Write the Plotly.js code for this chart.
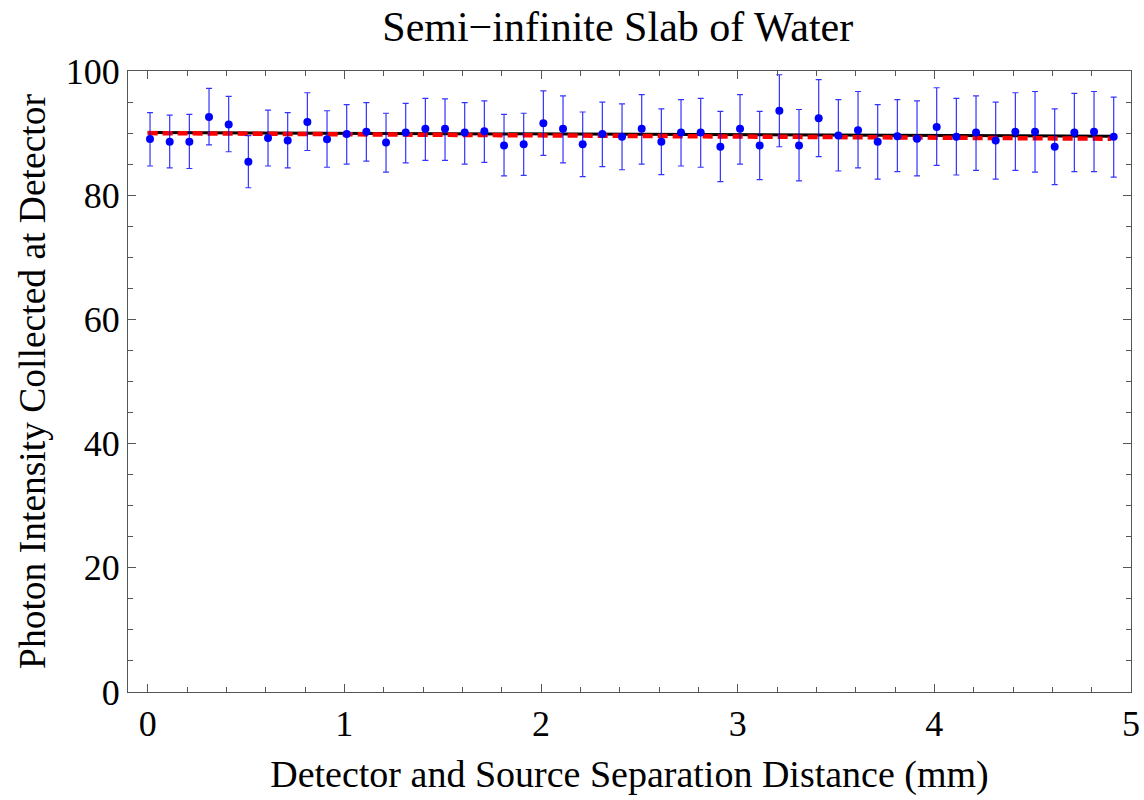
<!DOCTYPE html>
<html>
<head>
<meta charset="utf-8">
<script src="https://cdn.plot.ly/plotly-3.0.1.min.js"></script>
<style>html,body{margin:0;padding:0;background:#fff;}#chart{width:1144px;height:800px;}</style>
</head>
<body>
<div id="chart"></div>
<script>
// Detector-source separation (mm)
const separation = [0.012,0.112,0.212,0.312,0.412,0.512,0.612,0.712,0.812,0.912,
  1.012,1.112,1.212,1.312,1.412,1.512,1.612,1.712,1.812,1.912,
  2.012,2.112,2.212,2.312,2.412,2.512,2.612,2.712,2.812,2.912,
  3.012,3.112,3.212,3.312,3.412,3.512,3.612,3.712,3.812,3.912,
  4.012,4.112,4.212,4.312,4.412,4.512,4.612,4.712,4.812,4.912];
// Photon intensity (simulated points)
const intensity = [89.05,88.6,88.6,92.6,91.4,85.4,89.2,88.8,91.8,89.0,
  89.85,90.2,88.5,90.1,90.7,90.7,90.1,90.3,88.0,88.2,
  91.6,90.7,88.2,89.85,89.4,90.7,88.6,90.1,90.1,87.8,
  90.7,88.0,93.6,88.0,92.4,89.6,90.45,88.6,89.5,89.1,
  91.0,89.4,90.1,88.8,90.2,90.2,87.8,90.1,90.2,89.4];
// Error bar upper ends
const upper = [93.3,92.9,93.0,97.2,95.9,89.6,93.7,93.3,96.5,93.6,
  94.6,94.9,93.2,94.8,95.6,95.5,94.9,95.2,93.0,93.2,
  96.8,96.0,93.4,95.0,94.7,96.2,93.9,95.4,95.6,93.5,
  96.2,93.5,99.4,93.8,98.6,95.4,96.7,94.6,95.4,95.2,
  97.3,95.6,96.0,95.0,96.5,96.7,93.9,96.4,96.7,95.8];
// Error bar lower ends
const lower = [84.7,84.4,84.3,88.1,87.0,81.2,84.7,84.4,87.2,84.5,
  85.0,85.5,83.7,85.2,85.6,85.6,85.0,85.3,83.1,83.2,
  86.4,85.2,83.0,84.6,84.1,85.0,83.3,84.7,84.5,82.2,
  85.0,82.5,87.8,82.3,86.2,83.9,84.4,82.6,83.8,83.1,
  84.8,83.25,84.0,82.6,84.0,83.7,81.7,83.8,83.8,82.9];
// Fit curves
const fitX = [0, 4.9];
const fitBlack = [90.1, 89.5];
const fitRed = [90.0, 89.1];

const errPlus = intensity.map((v, i) => upper[i] - v);
const errMinus = intensity.map((v, i) => v - lower[i]);

const serif = '"Liberation Serif", "DejaVu Serif", serif';

const traces = [
  {x: fitX, y: fitBlack, mode: 'lines', line: {color: '#000', width: 3}, hoverinfo: 'skip'},
  {x: fitX, y: fitRed, mode: 'lines', line: {color: '#ff0000', width: 4.5, dash: '10px,5px'}, hoverinfo: 'skip'},
  {x: separation, y: intensity, mode: 'markers', type: 'scatter',
   marker: {color: '#0000ff', size: 8},
   error_y: {type: 'data', symmetric: false, array: errPlus, arrayminus: errMinus,
     color: 'rgba(0,0,255,0.8)', thickness: 1.2, width: 3}}
];

const axisCommon = {
  showgrid: false, zeroline: false, showline: true, linecolor: '#555', linewidth: 1,
  mirror: 'ticks', ticks: 'inside', ticklen: 8, tickcolor: '#555', tickwidth: 1,
  tickfont: {family: serif, size: 36, color: '#000'}
};

const layout = {
  width: 1144, height: 800,
  margin: {l: 128, r: 13, t: 71, b: 108},
  paper_bgcolor: '#fff', plot_bgcolor: '#fff',
  showlegend: false,
  title: {text: 'Semi\u2212infinite Slab of Water', font: {family: serif, size: 42, color: '#000'},
    x: 0.54, xanchor: 'center', y: 0.967, yanchor: 'middle'},
  xaxis: Object.assign({}, axisCommon, {
    range: [-0.1, 5], tickvals: [0, 1, 2, 3, 4, 5], ticktext: ['0','1','2','3','4','5'],
    minor: {dtick: 0.2, tick0: 0, ticks: 'inside', ticklen: 5, tickcolor: '#555'},
    title: {text: 'Detector and Source Separation Distance (mm)', font: {family: serif, size: 38, color: '#000'}, standoff: 17}
  }),
  yaxis: Object.assign({}, axisCommon, {
    range: [0, 100], tickvals: [0, 20, 40, 60, 80, 100],
    minor: {dtick: 5, tick0: 0, ticks: 'inside', ticklen: 5, tickcolor: '#555'},
    title: {text: 'Photon Intensity Collected at Detector', font: {family: serif, size: 37.5, color: '#000'}, standoff: 8}
  })
};

Plotly.newPlot('chart', traces, layout, {displayModeBar: false, staticPlot: true});
</script>
</body>
</html>
